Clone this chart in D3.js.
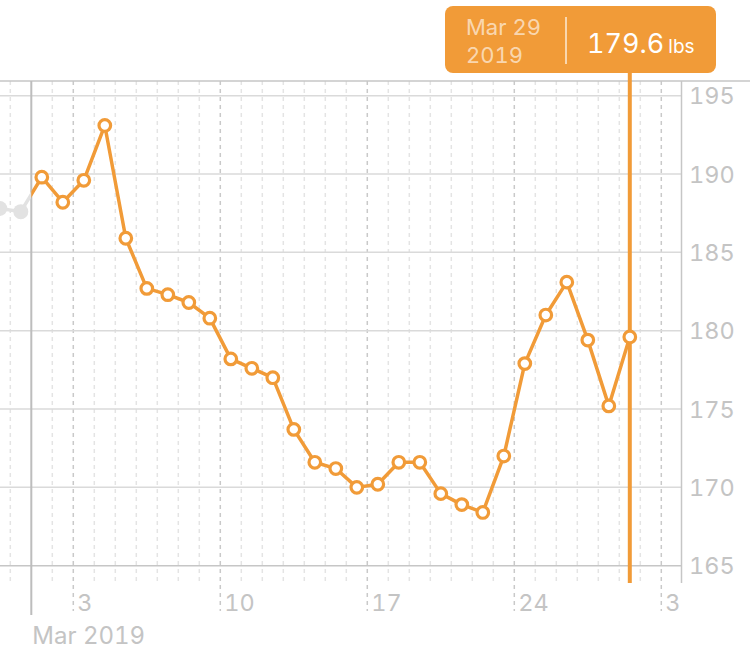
<!DOCTYPE html>
<html><head><meta charset="utf-8">
<script src="https://cdn.jsdelivr.net/npm/d3@7"></script>
<style>
html,body{margin:0;padding:0;background:#fff;}
svg{display:block;font-family:Inter,"Noto Sans",sans-serif;font-variant-numeric:tabular-nums;font-feature-settings:"tnum" 1;}
</style></head>
<body><svg id="c" width="750" height="653"></svg>
<script>
// ---- data ----
const marchDays = d3.range(1, 30); // Mar 1 .. Mar 29
const marchValues = [189.8,188.2,189.6,193.1,185.9,182.7,182.3,181.8,180.8,178.2,177.6,177.0,173.7,171.6,171.2,170.0,170.2,171.6,171.6,169.6,168.9,168.4,172.0,177.9,181.0,183.1,179.4,175.2,179.6];
const febDays = [27, 28];
const febValues = [187.8, 187.6];
const yTicks = [165,170,175,180,185,190,195];
const xTickDays = [3,10,17,24,31];
const xTickLabels = ["3","10","17","24","31"];
const monthLabel = "Mar 2019";
const tipDate = ["Mar 29","2019"];
const tipValue = "179.6";
const tipUnit = "lbs";

const orange = "#f19b38";
const svg = d3.select("#c");

const D = (m,d,h=0)=>new Date(Date.UTC(2019,m,d,h));
const x = d3.scaleUtc().domain([D(2,1), D(2,31)]).range([31.3, 31.3+30*21]);
const y = d3.scaleLinear().domain([165,195]).range([565.7,95.7]);
const plotTop = 81, plotBottom = 583, plotRight = 681.5;

const pts = marchDays.map((d,i)=>({t:D(2,d,12), v:marchValues[i]}));
const gpts = febDays.map((d,i)=>({t:D(1,d,12), v:febValues[i]}));
const all = gpts.concat(pts);

// clip paths
const defs = svg.append("defs");
defs.append("clipPath").attr("id","plot").append("rect")
  .attr("x",0).attr("y",0).attr("width",plotRight).attr("height",653);
defs.append("clipPath").attr("id","pre").append("rect")
  .attr("x",0).attr("y",0).attr("width",x(D(2,1))).attr("height",653);
defs.append("clipPath").attr("id","post").append("rect")
  .attr("x",x(D(2,1))).attr("y",0).attr("width",plotRight-x(D(2,1))).attr("height",653);

// daily dashed lines
const days = d3.utcDay.range(D(1,25), D(3,3));
const g = svg.append("g").attr("clip-path","url(#plot)");
g.selectAll("line.day").data(days.filter(d=>d.getUTCDay()!==0 && !(d.getUTCDate()===1)))
  .join("line").attr("class","day")
  .attr("x1",d=>x(d)).attr("x2",d=>x(d))
  .attr("y1",plotTop).attr("y2",plotBottom-2)
  .attr("stroke","#e4e4e4").attr("stroke-width",1.5).attr("stroke-dasharray","4,4");
g.selectAll("line.week").data(xTickDays.map(d=>D(2,d)))
  .join("line").attr("class","week")
  .attr("x1",d=>x(d)).attr("x2",d=>x(d))
  .attr("y1",plotTop).attr("y2",611)
  .attr("stroke","#c9c9c9").attr("stroke-width",1.5).attr("stroke-dasharray","4,4");

// horizontal grid
svg.selectAll("line.hg").data(yTicks).join("line").attr("class","hg")
  .attr("x1",0).attr("x2",plotRight).attr("y1",d=>y(d)).attr("y2",d=>y(d))
  .attr("stroke",d=>d===165?"#c6c6c6":"#dadada").attr("stroke-width",1.5);

// top border & right axis
svg.append("line").attr("x1",0).attr("x2",750).attr("y1",plotTop).attr("y2",plotTop)
  .attr("stroke","#c6c6c6").attr("stroke-width",1.5);
svg.append("line").attr("x1",plotRight).attr("x2",plotRight).attr("y1",plotTop).attr("y2",plotBottom)
  .attr("stroke","#c6c6c6").attr("stroke-width",1.5);
// month line
svg.append("line").attr("x1",x(D(2,1))).attr("x2",x(D(2,1))).attr("y1",plotTop).attr("y2",615)
  .attr("stroke","#bdbdbd").attr("stroke-width",2);

// y labels
svg.selectAll("text.yl").data(yTicks).join("text").attr("class","yl")
  .attr("x",689).attr("y",d=>y(d)+8.5).attr("font-size",23.5).attr("fill","#c4c4c4")
  .text(d=>d);

// x labels
svg.append("g").attr("clip-path","url(#plot)")
  .selectAll("text").data(xTickDays).join("text")
  .attr("x",d=>x(D(2,d))+4).attr("y",611).attr("font-size",23.5).attr("fill","#c4c4c4")
  .text((d,i)=>xTickLabels[i]);
svg.append("text").attr("x",x(D(2,1))+1).attr("y",644).attr("font-size",24).attr("fill","#c4c4c4").text(monthLabel);

// lines
const line = d3.line().x(d=>x(d.t)).y(d=>y(d.v));
svg.append("path").datum(all).attr("d",line).attr("fill","none")
  .attr("stroke","#e2e2e2").attr("stroke-width",3.5).attr("clip-path","url(#pre)");
svg.append("path").datum(all).attr("d",line).attr("fill","none")
  .attr("stroke",orange).attr("stroke-width",3.5).attr("stroke-linejoin","round").attr("clip-path","url(#post)");

svg.selectAll("circle.g").data(gpts).join("circle").attr("class","g")
  .attr("cx",d=>x(d.t)).attr("cy",d=>y(d.v)).attr("r",7.5).attr("fill","#e2e2e2");

// tooltip line
const sel = pts[pts.length-1];
svg.append("line").attr("x1",x(sel.t)).attr("x2",x(sel.t)).attr("y1",70).attr("y2",plotBottom)
  .attr("stroke",orange).attr("stroke-width",4);

svg.selectAll("circle.o").data(pts).join("circle").attr("class","o")
  .attr("cx",d=>x(d.t)).attr("cy",d=>y(d.v)).attr("r",5.8)
  .attr("fill","#fff").attr("stroke",orange).attr("stroke-width",3.2);

// tooltip box
const tip = svg.append("g");
tip.append("rect").attr("x",445).attr("y",6).attr("width",271).attr("height",67).attr("rx",8)
  .attr("fill",orange);
tip.append("line").attr("x1",566).attr("x2",566).attr("y1",17).attr("y2",64)
  .attr("stroke","rgba(255,255,255,0.6)").attr("stroke-width",2);
tip.append("text").attr("x",466).attr("y",34.5).attr("font-size",22).attr("fill","rgba(255,255,255,0.62)").text(tipDate[0]);
tip.append("text").attr("x",466).attr("y",63).attr("font-size",22).attr("fill","rgba(255,255,255,0.62)").text(tipDate[1]);
const tv = tip.append("text").attr("x",587).attr("y",52.5).attr("fill","#fff");
tv.append("tspan").attr("font-size",27).text(tipValue);
tv.append("tspan").attr("font-size",19).attr("dx",4).text(tipUnit);
</script></body></html>
